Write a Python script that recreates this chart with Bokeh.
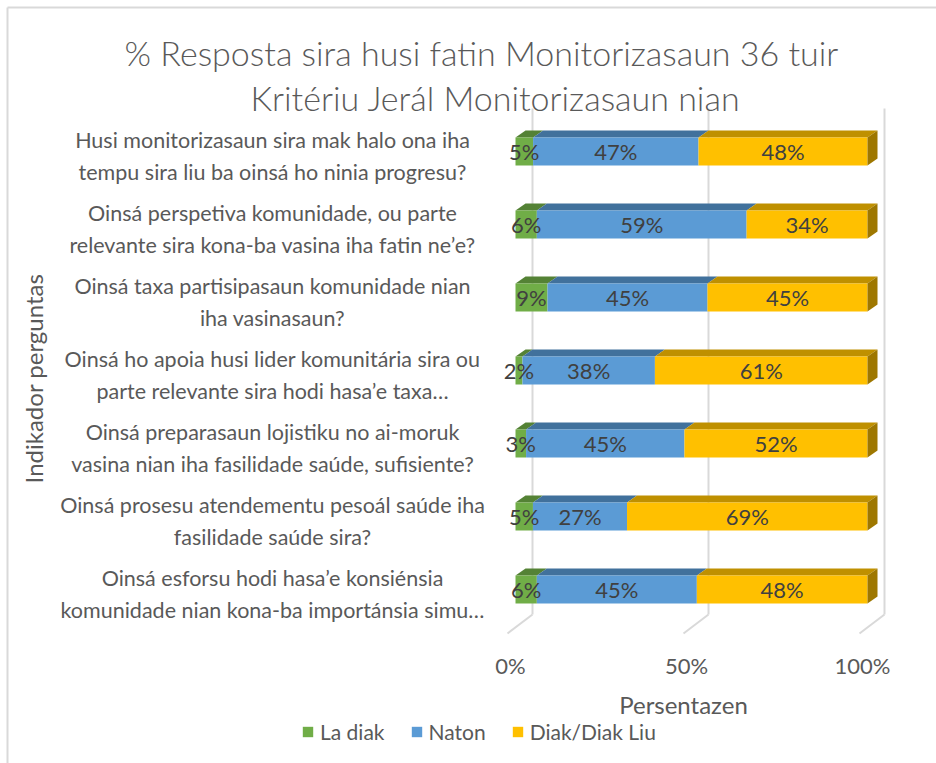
import math
from bokeh.plotting import figure
from bokeh.models import ColumnDataSource, Range1d, Legend, LegendItem
from bokeh.embed import file_html
from bokeh.resources import INLINE
from bokeh.core.properties import value

# ---------------- data ----------------
questions = [
    "Husi monitorizasaun sira mak halo ona iha\ntempu sira liu ba oinsá ho ninia progresu?",
    "Oinsá perspetiva komunidade, ou parte\nrelevante sira kona-ba vasina iha fatin ne’e?",
    "Oinsá taxa partisipasaun komunidade nian\niha vasinasaun?",
    "Oinsá ho apoia husi lider komunitária sira ou\nparte relevante sira hodi hasa’e taxa…",
    "Oinsá preparasaun lojistiku no ai-moruk\nvasina nian iha fasilidade saúde, sufisiente?",
    "Oinsá prosesu atendementu pesoál saúde iha\nfasilidade saúde sira?",
    "Oinsá esforsu hodi hasa’e konsiénsia\nkomunidade nian kona-ba importánsia simu…",
]
la_diak = [5, 6, 9, 2, 3, 5, 6]
naton = [47, 59, 45, 38, 45, 27, 45]
diak_liu = [48, 34, 45, 61, 52, 69, 48]
series_names = ["La diak", "Naton", "Diak/Diak Liu"]
x_ticks = [0, 50, 100]
x_tick_labels = ["0%", "50%", "100%"]
title_lines = ["% Resposta sira husi fatin Monitorizasaun 36 tuir",
               "Kritériu Jerál Monitorizasaun nian"]
x_title = "Persentazen"
y_title = "Indikador perguntas"

# ---------------- style / layout ----------------
FONT = "Lato"
TITLE_FONT = "Lato Light"
TXT = "#595959"
front_colors = ["#70AD47", "#5B9BD5", "#FFC000"]
top_colors = ["#548235", "#41719C", "#BF9000"]
side_color = "#9E7700"
grid_color = "#D9D9D9"

W, H = 936, 763
PX_X = 3.52            # pixels per percent
PX_Y = 73.0            # pixels per category step
ORIGIN_X = 515         # canvas x of 0 %
ORIGIN_Y = 151         # canvas y of first category


def X(px):
    return (px - ORIGIN_X) / PX_X


def Y(py):
    return (py - ORIGIN_Y) / PX_Y


BAR_H = 28 / PX_Y
DEPTH_X = 10 / PX_X
DEPTH_Y = 7 / PX_Y
BACK_DX = 17 / PX_X
FLOOR_DX = 8 / PX_X

n = len(questions)
series = [la_diak, naton, diak_liu]
totals = [sum(s[i] for s in series) for i in range(n)]

p = figure(width=W, height=H, output_backend="svg", toolbar_location=None,
           x_range=Range1d(X(0), X(W)), y_range=Range1d(Y(H), Y(0)),
           x_axis_type=None, y_axis_type=None, min_border=0, title=None)
p.outline_line_color = None
p.grid.visible = False
p.background_fill_color = "white"
p.border_fill_color = "white"

# chart border (left & top visible in the reference)
p.segment(x0=[X(7), X(7)], y0=[Y(7), Y(7)], x1=[X(7), X(W)], y1=[Y(H), Y(7)],
          line_color=grid_color, line_width=2)

# back wall grid lines + floor lines
nt = len(x_ticks)
p.segment(x0=[t + BACK_DX for t in x_ticks], y0=[Y(108)] * nt,
          x1=[t + BACK_DX for t in x_ticks], y1=[Y(614)] * nt,
          line_color=grid_color, line_width=2)
p.segment(x0=[t + BACK_DX for t in x_ticks], y0=[Y(614)] * nt,
          x1=[t - FLOOR_DX for t in x_ticks], y1=[Y(633)] * nt,
          line_color=grid_color, line_width=2)

front_renderers = []
lab_x, lab_y, lab_t = [], [], []
cum = [0.0] * n
for si, s in enumerate(series):
    lefts, rights, tops, bottoms = [], [], [], []
    txs, tys = [], []
    for i in range(n):
        w = s[i] / totals[i] * 100
        L = cum[i]
        R = L + w
        cum[i] = R
        top = i - BAR_H / 2
        bot = i + BAR_H / 2
        lefts.append(L); rights.append(R); tops.append(top); bottoms.append(bot)
        txs.append([L, R, R + DEPTH_X, L + DEPTH_X])
        tys.append([top, top, top - DEPTH_Y, top - DEPTH_Y])
        lab_x.append((L + R) / 2); lab_y.append(i); lab_t.append(f"{s[i]}%")
    p.patches(xs=txs, ys=tys, fill_color=top_colors[si], line_color=None)
    r = p.quad(left=lefts, right=rights, top=tops, bottom=bottoms,
               fill_color=front_colors[si], line_color=None)
    front_renderers.append(r)
    if si == len(series) - 1:
        sxs = [[R, R + DEPTH_X, R + DEPTH_X, R] for R in rights]
        sys_ = [[t, t - DEPTH_Y, b - DEPTH_Y, b] for t, b in zip(tops, bottoms)]
        p.patches(xs=sxs, ys=sys_, fill_color=side_color, line_color=None)

# data labels
src = ColumnDataSource(dict(x=lab_x, y=lab_y, t=lab_t))
p.text(x="x", y="y", text="t", source=src, text_align="center", text_baseline="middle",
       text_font=value(FONT), text_font_size=value("22px"), text_color="#404040")

# category labels (left)
cat_src = ColumnDataSource(dict(x=[X(272)] * n, y=[i + 4.5 / PX_Y for i in range(n)], t=questions))
p.text(x="x", y="y", text="t", source=cat_src, text_align="center", text_baseline="middle",
       text_font=value(FONT), text_font_size=value("21.5px"), text_color=TXT,
       text_line_height=1.2)

# x tick labels
tick_src = ColumnDataSource(dict(x=[t - 5 / PX_X for t in x_ticks], y=[Y(665)] * nt, t=x_tick_labels))
p.text(x="x", y="y", text="t", source=tick_src, text_align="center", text_baseline="middle",
       text_font=value(FONT), text_font_size=value("22px"), text_color=TXT)

# axis titles
p.text(x=[X(683)], y=[Y(704)], text=[x_title], text_align="center", text_baseline="middle",
       text_font=value(FONT), text_font_size=value("24px"), text_color=TXT)
p.text(x=[X(33)], y=[Y(378)], text=[y_title], angle=math.pi / 2, text_align="center",
       text_baseline="middle", text_font=value(FONT), text_font_size=value("24px"), text_color=TXT)

# chart title
p.text(x=[X(481), X(495)], y=[Y(52), Y(97)], text=title_lines, text_align="center",
       text_baseline="middle", text_font=value(TITLE_FONT), text_font_size=value("34px"),
       text_color=TXT)

legend = Legend(items=[LegendItem(label=nm, renderers=[r]) for nm, r in zip(series_names, front_renderers)],
                orientation="horizontal", location=(301, 19), border_line_color=None,
                background_fill_alpha=0, padding=0, margin=0, spacing=25, label_standoff=6,
                glyph_width=13, glyph_height=13, label_text_font=FONT, label_text_font_size="21px",
                label_text_color=TXT)
p.add_layout(legend, "center")

open("out.html", "w").write(file_html(p, INLINE))
